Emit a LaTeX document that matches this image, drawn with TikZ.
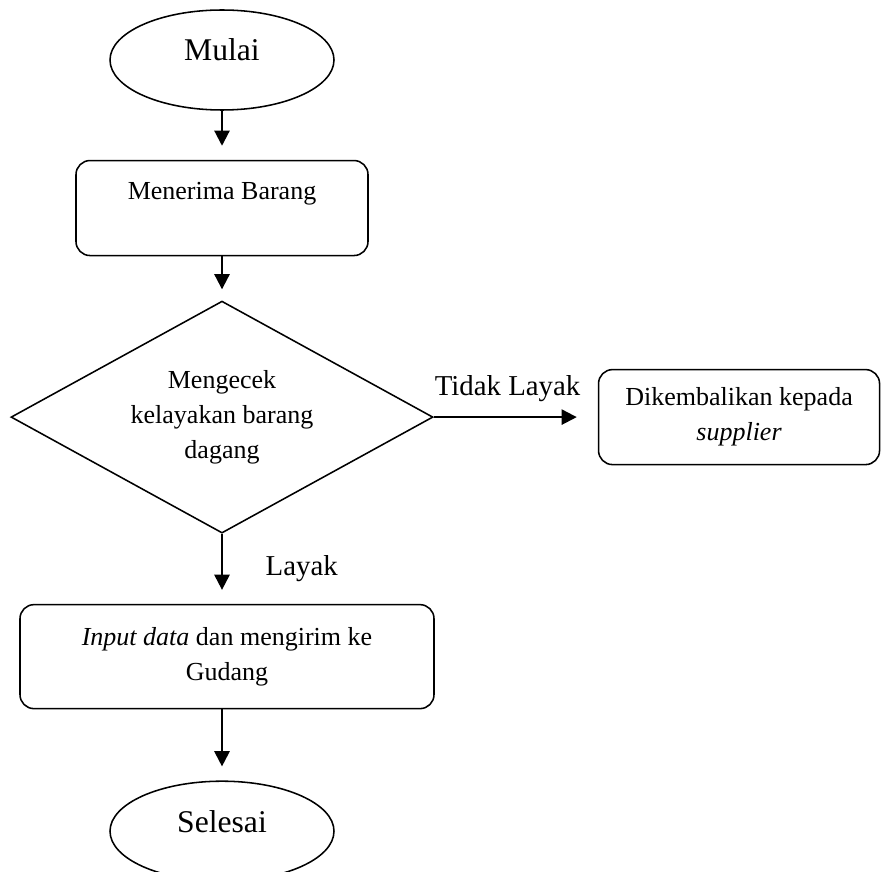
\documentclass[tikz,border=0pt]{standalone}
\usepackage{fontspec}
\setmainfont{Liberation Serif}
\usetikzlibrary{arrows.meta, positioning, shapes.geometric}

\begin{document}
\begin{tikzpicture}[
node distance=1.2cm,
>={Triangle[length=0.38cm, width=0.38cm]},
every node/.style={font=\fontsize{18.5}{25}\selectfont},
terminal/.style={draw, ellipse, line width=1.1pt, minimum width=5.6cm, minimum height=2.5cm, text depth=0.5cm, font=\fontsize{22.5}{27}\selectfont},
process/.style={draw, rounded corners=0.35cm, line width=1.1pt, align=center},
decision/.style={draw, diamond, aspect=1.8, inner sep=0pt, line width=1.1pt, align=center},
flow/.style={->, line width=1.5pt, shorten >=0.35cm},
lbl/.style={font=\fontsize{20.5}{25}\selectfont}
]

\useasboundingbox (0,0) rectangle (22.025,-21.8);

\node (mulai) [terminal] at (5.55,-1.5) {Mulai};
\node (terima) [process, below=1.225cm of mulai, minimum width=7.3cm, minimum height=2.375cm, text depth=0.875cm] {Menerima Barang};

\node (cek) [decision, below=1.1cm of terima, minimum width=10.55cm, minimum height=5.8cm] {Mengecek\\kelayakan barang\\dagang};
\node (kembali) [process, right=4.1cm of cek, minimum width=7.025cm, minimum height=2.375cm] {Dikembalikan kepada\\\textit{supplier}};

\node (input) [process, below=1.75cm of cek, xshift=0.125cm, minimum width=10.35cm, minimum height=2.6cm] {\textit{Input data} dan mengirim ke\\Gudang};
\node (selesai) [terminal, below=1.775cm of input, xshift=-0.125cm] {Selesai};

\draw[flow] (mulai) -- (terima);
\draw[flow, shorten >=0.275cm] (terima) -- (cek);
\draw[flow, shorten >=0.525cm] (cek) -- node[lbl, pos=0.45, above, yshift=0.25cm] (tidak) {Tidak Layak} (kembali);
\draw[flow] (cek) -- node[lbl, midway, right=0.95cm] (layak) {Layak} (cek |- input.north);
\draw[flow] (input.south -| selesai) -- (selesai);

\end{tikzpicture}
\end{document}
